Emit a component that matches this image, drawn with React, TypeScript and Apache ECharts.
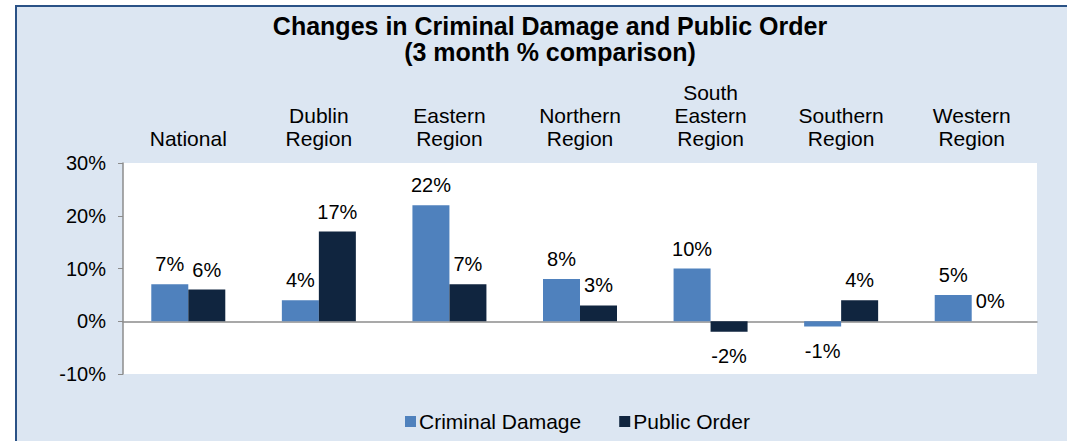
import React, { useEffect, useRef } from "react";
import * as echarts from "echarts";

const categories = [
  "National",
  "Dublin\nRegion",
  "Eastern\nRegion",
  "Northern\nRegion",
  "South\nEastern\nRegion",
  "Southern\nRegion",
  "Western\nRegion",
];
const criminalDamage = [7, 4, 22, 8, 10, -1, 5];
const publicOrder = [6, 17, 7, 3, -2, 4, 0];
const seriesNames = ["Criminal Damage", "Public Order"];
const yTicks = { min: -10, max: 30, interval: 10 };
const titleLines = ["Changes in Criminal Damage and Public Order", "(3 month % comparison)"];

const FONT = "'Liberation Sans', Arial, sans-serif";
const CD_COLOR = "#4F81BD";
const PO_COLOR = "#10253F";

function toData(values: number[]) {
  return values.map((v) => ({
    value: v,
    label: v < 0 ? { position: "bottom" as const, distance: 14 } : undefined,
  }));
}

export default function App() {
  const ref = useRef<HTMLDivElement>(null);
  useEffect(() => {
    if (!ref.current) return;
    const chart = echarts.init(ref.current, undefined, { renderer: "svg" });
    const labelStyle = {
      show: true,
      position: "top" as const,
      distance: 10,
      formatter: (p: any) => `${p.value}%`,
      fontSize: 20,
      color: "#000",
      fontFamily: FONT,
    };
    chart.setOption({
      animation: false,
      backgroundColor: "#DCE6F2",
      textStyle: { fontFamily: FONT },
      title: {
        text: titleLines.join("\n"),
        left: 545,
        top: 8,
        textAlign: "center",
        textStyle: {
          fontSize: 25,
          fontWeight: "bold",
          lineHeight: 26,
          color: "#000",
          fontFamily: FONT,
        },
      },
      legend: {
        data: seriesNames,
        left: 400,
        top: 406,
        itemWidth: 11,
        itemHeight: 11,
        itemGap: 38,
        icon: "rect",
        textStyle: { fontSize: 21, color: "#000", fontFamily: FONT, padding: [0, 0, 0, -2] },
      },
      grid: {
        left: 123,
        right: 30,
        top: 163,
        bottom: 67,
        show: true,
        backgroundColor: "#FFFFFF",
        borderWidth: 0,
      },
      xAxis: [
        {
          type: "category",
          data: categories,
          position: "top",
          axisLine: { show: false, onZero: false },
          axisTick: { show: false },
          axisLabel: {
            fontSize: 21,
            lineHeight: 23,
            color: "#000",
            fontFamily: FONT,
            margin: 13,
            interval: 0,
          },
        },
        {
          type: "category",
          data: categories,
          position: "bottom",
          axisLine: { show: true, onZero: true, lineStyle: { color: "#8C8C8C", width: 1.5 } },
          axisTick: { show: false },
          axisLabel: { show: false },
        },
      ],
      yAxis: {
        type: "value",
        min: yTicks.min,
        max: yTicks.max,
        interval: yTicks.interval,
        axisLine: { show: true, lineStyle: { color: "#8C8C8C", width: 1.5 } },
        axisTick: { show: true, length: 5, lineStyle: { color: "#8C8C8C" } },
        splitLine: { show: false },
        axisLabel: {
          formatter: (v: number) => `${v}%`,
          fontSize: 20,
          color: "#000",
          fontFamily: FONT,
          margin: 17,
        },
      },
      series: [
        {
          name: seriesNames[0],
          type: "bar",
          xAxisIndex: 0,
          data: toData(criminalDamage),
          barWidth: 37,
          barGap: "0%",
          itemStyle: { color: CD_COLOR },
          label: labelStyle,
        },
        {
          name: seriesNames[1],
          type: "bar",
          xAxisIndex: 0,
          data: toData(publicOrder),
          barWidth: 37,
          barGap: "0%",
          itemStyle: { color: PO_COLOR },
          label: labelStyle,
        },
      ],
      graphic: [
        { type: "rect", shape: { x: 0, y: 0, width: 1067, height: 5 }, style: { fill: "#FFFFFF" }, silent: true },
        { type: "rect", shape: { x: 0, y: 0, width: 15, height: 441 }, style: { fill: "#FFFFFF" }, silent: true },
        {
          type: "line",
          shape: { x1: 15, y1: 6, x2: 1067, y2: 6 },
          style: { stroke: "#2A5286", lineWidth: 2 },
          silent: true,
        },
        {
          type: "line",
          shape: { x1: 16, y1: 5, x2: 16, y2: 441 },
          style: { stroke: "#2A5286", lineWidth: 2 },
          silent: true,
        },
      ],
    });
    return () => chart.dispose();
  }, []);
  return (
    <div
      ref={ref}
      style={{ position: "fixed", left: 0, top: 0, width: 1067, height: 441 }}
    />
  );
}
